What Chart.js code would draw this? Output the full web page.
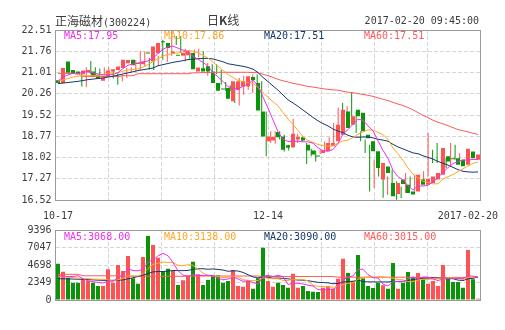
<!DOCTYPE html>
<html lang="zh">
<head>
<meta charset="utf-8">
<title>正海磁材 日K线</title>
<script src="https://cdn.jsdelivr.net/npm/chart.js@4.4.1/dist/chart.umd.min.js"></script>
<style>
  body { margin: 0; background: #fff; }
  #box { position: relative; width: 505px; height: 330px; overflow: hidden;
         font: 10px "DejaVu Sans Mono", monospace; color: #3c3c3c; }
  #box canvas { position: absolute; left: 0; top: 0; }
  .lbl { position: absolute; white-space: nowrap; line-height: 12px; }
  .cjk { font-family: "Noto Sans CJK SC", sans-serif; font-size: 12px; }
</style>
</head>
<body>
<div id="box">
  <canvas id="kline" width="505" height="330"></canvas>
  <canvas id="vol" width="505" height="330"></canvas>
  <div class="lbl" style="left:55px;top:15px"><span class="cjk">正海磁材</span>(300224)</div>
  <div class="lbl cjk" style="left:207px;top:14px">日<b>K</b>线</div>
  <div class="lbl" style="right:26px;top:15px">2017-02-20 09:45:00</div>
</div>
<script>
const dates = [
  '2016-10-17','2016-10-18','2016-10-19','2016-10-20','2016-10-21','2016-10-24','2016-10-25','2016-10-26','2016-10-27','2016-10-28','2016-10-31',
  '2016-11-01','2016-11-02','2016-11-03','2016-11-04','2016-11-07','2016-11-08','2016-11-09','2016-11-10','2016-11-11','2016-11-14','2016-11-15',
  '2016-11-16','2016-11-17','2016-11-18','2016-11-21','2016-11-22','2016-11-23','2016-11-24','2016-11-25','2016-11-28','2016-11-29','2016-11-30',
  '2016-12-01','2016-12-02','2016-12-05','2016-12-06','2016-12-07','2016-12-08','2016-12-09','2016-12-12','2016-12-13','2016-12-14','2016-12-15',
  '2016-12-16','2016-12-19','2016-12-20','2016-12-21','2016-12-22','2016-12-23','2016-12-26','2016-12-27','2016-12-28','2016-12-29','2016-12-30',
  '2017-01-03','2017-01-04','2017-01-05','2017-01-06','2017-01-09','2017-01-10','2017-01-11','2017-01-12','2017-01-13','2017-01-16','2017-01-17',
  '2017-01-18','2017-01-19','2017-01-20','2017-01-23','2017-01-24','2017-01-25','2017-01-26','2017-02-03','2017-02-06','2017-02-07','2017-02-08',
  '2017-02-09','2017-02-10','2017-02-13','2017-02-14','2017-02-15','2017-02-16','2017-02-17','2017-02-20'
];

const open = [
  20.74,20.64,21.4,21.1,21.05,20.95,21.03,21.05,20.93,20.72,
  20.88,21.05,21.1,21.17,21.34,21.46,21.36,21.3,21.7,21.4,
  21.69,22.1,22.05,21.7,21.64,21.6,21.62,21.7,21.05,21.16,
  21.23,21.05,20.64,20.43,20.47,20.0,20.4,20.52,20.52,20.85,
  20.64,19.64,18.59,18.62,18.92,18.76,18.45,18.38,18.65,18.72,
  18.47,18.26,18.07,18.18,18.24,18.41,18.59,18.82,19.64,19.17,
  19.7,19.59,18.82,18.59,18.24,17.24,17.7,17.12,16.73,17.24,
  17.06,16.82,16.82,17.24,17.06,17.12,17.24,17.41,18.06,17.99,
  17.99,17.94,17.76,18.23,17.94
];
const close = [
  20.64,21.17,21.0,20.97,20.98,21.08,21.1,20.85,20.78,20.84,
  21.08,21.13,21.22,21.46,21.45,21.27,21.32,21.4,21.68,21.93,
  22.05,22.08,21.88,21.75,21.6,21.7,21.76,21.13,21.19,21.05,
  21.05,20.64,20.37,20.41,20.09,20.7,20.7,20.7,20.88,20.75,
  19.67,18.76,18.76,18.74,18.73,18.29,18.36,18.85,18.74,18.62,
  18.26,18.12,18.05,18.26,18.53,18.53,19.17,19.7,19.06,19.47,
  19.47,18.94,18.7,18.24,17.65,17.82,17.47,16.65,17.12,17.08,
  16.77,16.71,17.41,17.06,17.27,17.35,17.47,18.35,17.88,17.96,
  17.76,17.71,18.33,17.99,18.12
];
const high = [
  21.0,21.2,21.42,21.2,21.15,21.2,21.2,21.12,21.0,20.95,
  21.17,21.2,21.45,21.76,21.76,21.52,21.55,21.6,22.17,21.95,
  22.5,22.3,22.3,21.85,21.72,21.82,21.85,21.76,21.35,21.3,
  21.3,21.1,20.68,20.56,20.58,20.82,20.9,20.82,20.94,20.94,
  20.7,19.64,18.94,18.94,18.94,18.82,18.47,19.38,18.85,18.76,
  18.53,18.33,18.26,18.29,18.58,18.73,19.23,19.78,19.94,19.82,
  20.29,19.64,18.94,18.65,18.47,17.94,17.88,17.41,17.35,17.59,
  17.18,17.0,17.47,17.35,17.41,17.41,17.53,18.88,18.29,18.53,
  18.35,18.0,18.53,18.47,18.17
];
const low = [
  20.52,20.5,20.95,20.9,20.9,20.9,20.95,20.8,20.58,20.7,
  20.82,21.0,21.05,21.1,21.22,21.12,21.1,21.25,21.46,21.38,
  21.6,21.98,21.7,21.4,21.5,21.5,21.55,21.1,20.9,21.0,
  20.95,20.58,20.35,20.35,19.94,19.85,20.23,20.4,20.29,20.6,
  19.64,18.06,18.53,18.5,18.65,18.23,18.26,18.35,18.53,18.57,
  17.79,18.06,17.88,18.14,18.21,18.35,18.5,18.65,18.82,19.1,
  19.35,18.88,18.59,18.18,16.82,16.94,17.35,16.6,16.7,17.02,
  16.53,16.59,16.77,16.94,16.82,17.06,17.18,17.35,17.82,17.82,
  17.65,17.65,17.7,17.94,17.88
];

const ma5 = [
  20.72,20.85,20.93,20.98,20.95,21.04,21.03,21.0,20.96,20.93,
  20.93,20.94,21.01,21.15,21.27,21.31,21.34,21.38,21.42,21.52,
  21.68,21.83,21.92,21.94,21.87,21.8,21.74,21.59,21.48,21.37,
  21.24,21.01,20.86,20.7,20.51,20.44,20.45,20.52,20.61,20.75,
  20.54,20.15,19.76,19.34,18.93,18.66,18.58,18.59,18.59,18.57,
  18.57,18.52,18.36,18.26,18.24,18.3,18.51,18.84,19.0,19.19,
  19.37,19.33,19.13,18.96,18.6,18.27,17.98,17.57,17.34,17.23,
  17.02,16.87,17.02,17.01,17.04,17.16,17.31,17.5,17.66,17.8,
  17.88,17.93,17.93,17.95,17.95
];
const ma10 = [
  20.7,20.75,20.8,20.85,20.88,20.9,20.9,20.9,20.9,20.94,
  20.99,20.99,21.0,21.06,21.1,21.12,21.14,21.2,21.29,21.4,
  21.5,21.59,21.65,21.68,21.7,21.74,21.79,21.76,21.71,21.62,
  21.52,21.38,21.23,21.09,20.94,20.84,20.73,20.69,20.66,20.63,
  20.49,20.3,20.14,19.98,19.84,19.6,19.37,19.18,18.97,18.75,
  18.62,18.55,18.48,18.43,18.41,18.44,18.52,18.6,18.63,18.72,
  18.84,18.92,18.99,18.98,18.9,18.82,18.66,18.35,18.15,17.92,
  17.65,17.43,17.3,17.18,17.14,17.09,17.09,17.26,17.34,17.42,
  17.52,17.62,17.72,17.81,17.86
];
const ma20 = [
  20.62,20.64,20.66,20.68,20.7,20.73,20.76,20.78,20.8,20.82,
  20.85,20.88,20.92,20.96,21.0,21.04,21.08,21.11,21.14,21.17,
  21.25,21.29,21.33,21.37,21.4,21.43,21.47,21.48,21.5,21.51,
  21.51,21.49,21.44,21.39,21.32,21.29,21.26,21.23,21.19,21.13,
  21.01,20.84,20.69,20.54,20.39,20.22,20.05,19.94,19.82,19.69,
  19.56,19.43,19.31,19.21,19.13,19.02,18.95,18.89,18.8,18.74,
  18.73,18.74,18.74,18.71,18.66,18.63,18.59,18.48,18.39,18.32,
  18.25,18.18,18.15,18.08,18.02,17.96,17.88,17.81,17.75,17.67,
  17.59,17.53,17.51,17.5,17.51
];
const ma60 = [
  20.98,20.98,20.98,20.98,20.98,20.87,20.87,20.87,20.87,20.87,
  20.87,20.87,20.87,20.9,20.9,20.9,20.97,20.97,20.97,20.97,
  20.97,20.97,20.97,20.97,20.97,20.97,20.97,21.0,21.0,21.01,
  21.01,21.01,21.02,21.02,21.02,21.02,21.02,21.02,21.02,21.01,
  21.0,20.95,20.9,20.84,20.77,20.72,20.68,20.63,20.6,20.56,
  20.52,20.5,20.47,20.44,20.42,20.4,20.39,20.35,20.32,20.3,
  20.27,20.24,20.21,20.17,20.12,20.07,20.02,19.96,19.9,19.85,
  19.78,19.7,19.6,19.5,19.42,19.33,19.26,19.2,19.14,19.07,
  19.0,18.96,18.92,18.87,18.83
];

const volume = [
  4878,3804,2998,2327,2327,2775,2551,2327,1880,1880,
  4117,2327,4699,3893,5907,2909,2193,5773,8592,7384,
  5683,3893,4207,3893,2014,2640,3222,5146,3446,2014,
  2685,3222,3312,2327,2551,4028,1880,1790,2551,1522,
  2909,7026,2551,1790,2327,2014,1656,3535,1656,1880,
  1208,1119,1074,1656,1880,1522,2864,5549,3625,2551,
  6041,2909,1880,1611,2327,1969,1522,4967,1522,2327,
  3759,2998,3625,2775,2193,2551,1880,4699,3088,2417,
  2417,1656,6713,2775,179
];
const vma5 = [
  3250,3200,3150,3150,3267,2846,2596,2461,2372,2283,
  2551,2506,2981,3383,4189,3947,3920,4135,5075,5370,
  5925,6265,5952,5012,3938,3329,3195,3383,3294,3294,
  3303,3303,2936,2712,2819,3088,2820,2515,2560,2354,
  2130,3160,3312,3160,3321,3142,2068,2264,2238,2148,
  1987,1880,1387,1387,1387,1450,1799,2694,3088,3222,
  4126,4135,3401,2998,2954,2139,1862,2479,2461,2461,
  2819,3115,2846,3097,3070,2828,2605,2820,2882,2927,
  2900,2855,3258,3196,3068
];
const vma10 = [
  3150,3100,3050,3000,2950,2900,2860,2820,2790,2775,
  2699,2551,2721,2878,3236,3249,3213,3558,4229,4780,
  4936,5093,5044,5044,4654,4627,4730,4668,4153,3616,
  3316,3249,3160,3003,3057,3196,3062,2726,2636,2587,
  2609,2990,2914,2860,2838,2636,2614,2788,2699,2735,
  2565,1974,1826,1813,1768,1719,1840,2041,2238,2305,
  2788,2967,3048,3043,3088,3133,2999,2940,2730,2708,
  2479,2489,2663,2779,2766,2824,2860,2833,2990,2999,
  2864,2730,3039,3039,3138
];
const vma20 = [
  2860,2850,2830,2810,2790,2770,2740,2700,2660,2640,
  2640,2640,2640,2700,2850,2980,3150,3330,3550,3778,
  3818,3822,3883,3961,3945,3938,3972,4113,4191,4198,
  4126,4171,4102,4024,3856,3912,3896,3697,3395,3102,
  2963,3120,3037,2932,2948,2916,2838,2757,2668,2661,
  2587,2482,2370,2337,2303,2178,2227,2415,2469,2520,
  2677,2471,2437,2428,2428,2426,2420,2491,2484,2507,
  2634,2728,2856,2911,2927,2979,2930,2887,2860,2854,
  2672,2610,2851,2909,3090
];
const vma60 = [
  3450,3450,3450,3450,3450,3250,3250,3250,3250,3250,
  3250,3250,3250,3180,3180,3180,3180,3180,3180,3180,
  3180,3180,3180,3180,3180,3180,3220,3220,3220,3220,
  3220,3220,3220,3220,3220,3220,3220,3220,3220,3220,
  3220,3150,3150,3150,3150,3150,3150,3150,3150,3150,
  3150,3150,3150,3150,3150,3150,3060,3060,3060,3060,
  3060,3060,3060,3060,3060,3060,3060,3060,3060,3060,
  3060,3030,3030,3030,3030,3030,3030,3030,3030,3030,
  3030,3030,3030,3030,3015
];

const axisTicks = [0, 42, 84];
const axisText = ['10-17', '12-14', '2017-02-20'];
const kLegend = ['MA5:17.95', 'MA10:17.86', 'MA20:17.51', 'MA60:17.51'];
const vLegend = ['MA5:3068.00', 'MA10:3138.00', 'MA20:3090.00', 'MA60:3015.00'];

const UP = '#ff5252';
const DOWN = '#0a940a';
const MA_COLORS = ['#ec30ec', '#ffa726', '#14396a', '#ff5a5a'];
const GRID = '#d6d6d6';
const TEXT = '#3c3c3c';
const MONO = '"DejaVu Sans Mono", monospace';

const candleColors = close.map((c, i) => c >= open[i] ? UP : DOWN);

// box around the plot area
const frame = {
  id: 'frame',
  afterDraw(chart) {
    const a = chart.chartArea, ctx = chart.ctx;
    ctx.save();
    ctx.strokeStyle = '#9a9a9a';
    ctx.lineWidth = 1;
    ctx.strokeRect(Math.floor(a.left) + 0.5, Math.floor(a.top) + 0.5,
                   Math.round(a.right - a.left), Math.round(a.bottom - a.top));
    ctx.restore();
  }
};

// date labels under the price pane, kept inside the canvas
const dateAxis = {
  id: 'dateAxis',
  afterDraw(chart) {
    const ctx = chart.ctx, sx = chart.scales.x, a = chart.chartArea;
    ctx.save();
    ctx.font = '10px ' + MONO;
    ctx.fillStyle = TEXT;
    ctx.textBaseline = 'middle';
    axisTicks.forEach((idx, k) => {
      const w = ctx.measureText(axisText[k]).width;
      const x = Math.min(sx.getPixelForValue(idx) - w / 2, chart.width - 7 - w);
      ctx.fillText(axisText[k], x, a.bottom + 16);
    });
    ctx.restore();
  }
};

function maLine(values, color) {
  return {
    type: 'line', data: values, borderColor: color, borderWidth: 1,
    pointRadius: 0, tension: 0, fill: false, order: 0
  };
}

function scales(min, max, count, fmt) {
  return {
    x: { type: 'category', display: false, offset: true },
    xg: {
      type: 'linear', position: 'bottom', min: 0, max: 8,
      ticks: { display: false, stepSize: 1 },
      grid: { color: GRID, drawTicks: false },
      border: { display: false, dash: [4, 2] },
      afterFit(s) { s.height = 0; s.paddingLeft = 0; s.paddingRight = 0; }
    },
    y: {
      position: 'left', min: min, max: max,
      ticks: { count: count, padding: 4, color: TEXT, font: { family: MONO, size: 10 }, callback: fmt },
      grid: { color: GRID, drawTicks: false },
      border: { display: false, dash: [4, 2] },
      afterFit(s) { s.width = 55.5; }
    }
  };
}

const common = {
  responsive: false,
  devicePixelRatio: 1,
  animation: false,
  events: [],
  plugins: { legend: { display: false }, tooltip: { enabled: false } }
};

const kScales = scales(16.52, 22.51, 9, v => v.toFixed(2));
kScales.xw = { type: 'linear', display: false, min: -0.6, max: dates.length - 1.6 };

new Chart(document.getElementById('kline'), {
  data: {
    labels: dates,
    datasets: [
      maLine(ma5, MA_COLORS[0]),
      maLine(ma10, MA_COLORS[1]),
      maLine(ma20, MA_COLORS[2]),
      maLine(ma60, MA_COLORS[3]),
      {
        type: 'bar', data: open.map((o, i) => [o, close[i]]),
        backgroundColor: candleColors, barThickness: 4, minBarLength: 1,
        inflateAmount: 0, grouped: false, order: 1
      },
      {
        type: 'bar', xAxisID: 'xw', data: low.map((l, i) => ({ x: i, y: [l, high[i]] })),
        backgroundColor: candleColors, barThickness: 1, inflateAmount: 0,
        grouped: false, order: 2
      }
    ]
  },
  options: Object.assign({}, common, {
    layout: { padding: { top: 30, bottom: 130, left: 0, right: 24.5 } },
    scales: kScales
  }),
  plugins: [frame, dateAxis]
});

new Chart(document.getElementById('vol'), {
  data: {
    labels: dates,
    datasets: [
      maLine(vma5, MA_COLORS[0]),
      maLine(vma10, MA_COLORS[1]),
      maLine(vma20, MA_COLORS[2]),
      maLine(vma60, MA_COLORS[3]),
      {
        type: 'bar', data: volume, backgroundColor: candleColors,
        barThickness: 4, inflateAmount: 0, grouped: false, order: 1
      }
    ]
  },
  options: Object.assign({}, common, {
    layout: { padding: { top: 230, bottom: 30, left: 0, right: 24.5 } },
    scales: scales(0, 9396, 5, v => String(Math.round(v)))
  }),
  plugins: [frame]
});

// MA legends inside both panes
const box = document.getElementById('box');
function legendRow(texts, top) {
  texts.forEach((t, k) => {
    const d = document.createElement('div');
    d.className = 'lbl';
    d.style.left = (64 + 100 * k) + 'px';
    d.style.top = top + 'px';
    d.style.color = MA_COLORS[k];
    d.textContent = t;
    box.appendChild(d);
  });
}
legendRow(kLegend, 30);
legendRow(vLegend, 231);
</script>
</body>
</html>
